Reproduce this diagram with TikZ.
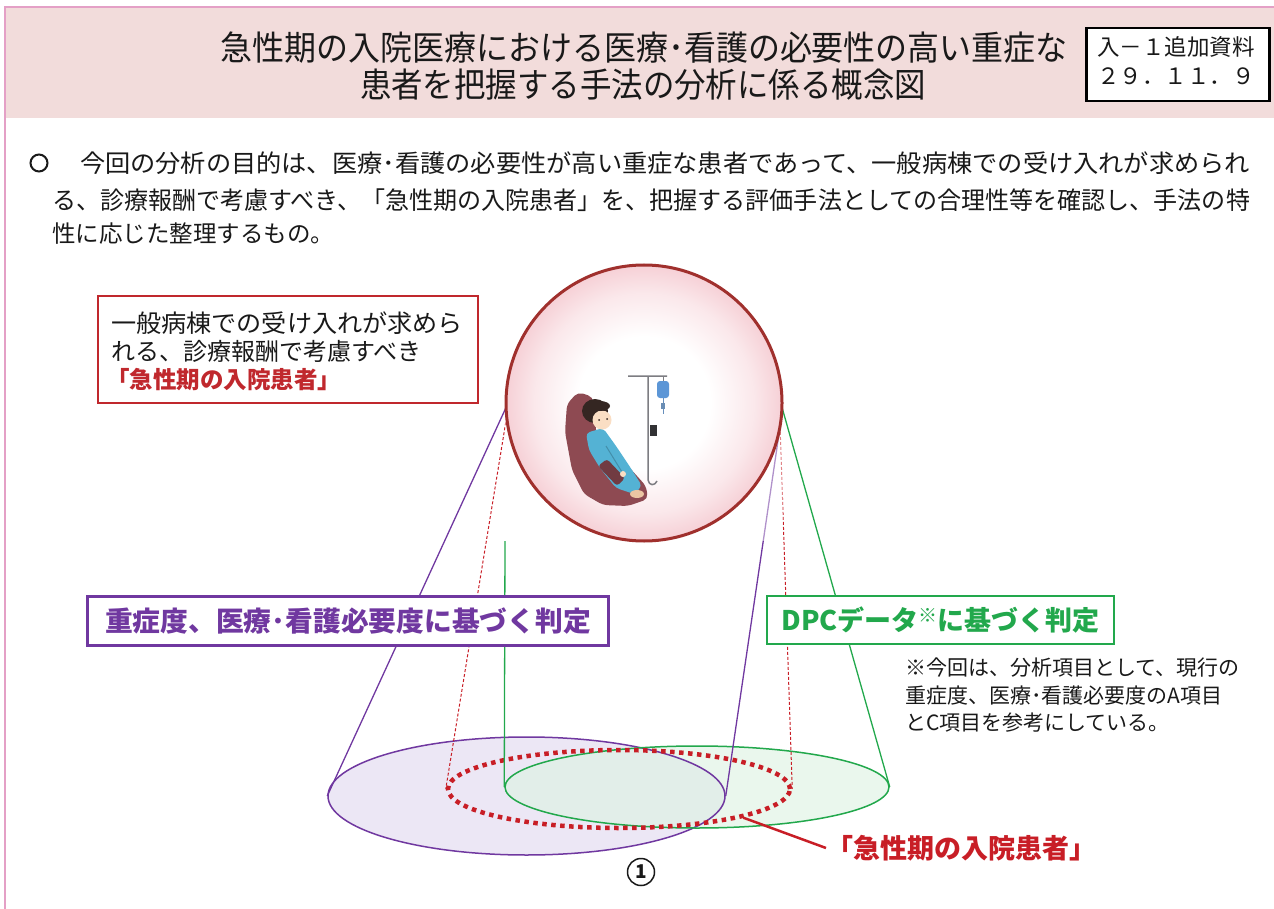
\documentclass[tikz,border=0pt]{standalone}
\usepackage{fontspec}
\setmainfont{Noto Sans CJK JP}
\usepackage{graphicx}
\usetikzlibrary{shapes.geometric}

\definecolor{hdrpink}{RGB}{242,220,219}
\definecolor{edgepink}{RGB}{228,160,198}
\definecolor{redbox}{RGB}{192,40,45}
\definecolor{acute}{RGB}{200,30,38}
\definecolor{ringred}{RGB}{160,48,45}
\definecolor{rimpink}{RGB}{246,208,214}
\definecolor{judgepurple}{RGB}{112,56,160}
\definecolor{dpcgreen}{RGB}{34,168,76}
\definecolor{purplefill}{RGB}{236,231,245}
\definecolor{greenfill}{RGB}{222,242,227}
\definecolor{chair}{RGB}{142,74,82}
\definecolor{gown}{RGB}{84,178,212}
\definecolor{skin}{RGB}{250,222,196}
\definecolor{hair}{RGB}{52,38,34}
\definecolor{ivbag}{RGB}{92,150,214}
\definecolor{pole}{RGB}{125,125,130}
\definecolor{ink}{RGB}{25,25,25}

\pgfdeclareradialshading{bubble}{\pgfpoint{0bp}{0bp}}{%
  color(0bp)=(white); color(12bp)=(white); color(20bp)=(rimpink!50!white);
  color(25bp)=(rimpink); color(50bp)=(rimpink)}

% stretch a line of text to a given width, keeping its height
\newcommand{\fitw}[2]{\resizebox{#1}{\height}{#2}}

\tikzset{
  txt/.style={inner sep=0pt, outer sep=0pt, text=ink},
  judgebox/.style={draw, line width=2.5pt, fill=white, inner sep=0pt},
  setoutline/.style={ellipse, inner sep=0pt, line width=1.5pt},
  cone/.style={line width=1.3pt},
  coneguide/.style={line width=1pt, acute, dash pattern=on 3pt off 2pt},
}

\begin{document}
\begin{tikzpicture}[x=1pt,y=-1pt]
\useasboundingbox (0,0) rectangle (1274,909);

% header band and page edge
\fill[hdrpink] (5,7) rectangle (1274,118);
\draw[edgepink, line width=1.5pt] (1274,7) -- (5,7) -- (5,909);

\node[txt] (title1) at (644,48)
  {\fitw{848pt}{\fontsize{34}{40}\selectfont 急性期の入院医療における医療･看護の必要性の高い重症な}};
\node[txt] (title2) at (643,85)
  {\fitw{566pt}{\fontsize{34}{40}\selectfont 患者を把握する手法の分析に係る概念図}};

\node[draw=black, line width=2.5pt, fill=white, minimum width=183pt, minimum height=73pt,
      anchor=north west, inner sep=0pt] (badge) at (1085,27) {};
\node[txt, font=\fontsize{22.5}{26}\selectfont] (badge1) at (1176,47) {入－１追加資料};
\node[txt, font=\fontsize{22.5}{26}\selectfont] (badge2) at (1176,76) {２９．１１．９};

% purpose statement
\node[circle, draw=ink, line width=2pt, minimum size=17pt, inner sep=0pt] (bullet) at (39,163) {};
\node[txt, anchor=west] (para1) at (80,163)
  {\fitw{1170pt}{\fontsize{24.5}{28}\selectfont 今回の分析の目的は、医療･看護の必要性が高い重症な患者であって、一般病棟での受け入れが求められ}};
\node[txt, anchor=west] (para2) at (52,200)
  {\fitw{1198pt}{\fontsize{24.5}{28}\selectfont る、診療報酬で考慮すべき、「急性期の入院患者」を、把握する評価手法としての合理性等を確認し、手法の特}};
\node[txt, anchor=west, font=\fontsize{23.5}{28}\selectfont] (para3) at (52,234) {性に応じた整理するもの。};

% three populations at the bottom
\path[fill=purplefill] (526.5,796) ellipse [x radius=198.5pt, y radius=59pt];
\path[fill=greenfill, fill opacity=0.65] (697,787) ellipse [x radius=192pt, y radius=41pt];
\node[setoutline, draw=judgepurple, minimum width=397pt, minimum height=118pt] (pset) at (526.5,796) {};
\node[setoutline, draw=dpcgreen, minimum width=384pt, minimum height=82pt] (gset) at (697,787) {};
\node[ellipse, inner sep=0pt, draw=acute, line width=4.5pt, dash pattern=on 4.5pt off 4.5pt,
      minimum width=342pt, minimum height=78pt] (aset) at (619,789) {};

% the patient bubble (placed first so the cone lines can start on it)
\node[circle, inner sep=0pt, minimum size=276pt] (bubble) at (644,403) {};
\coordinate (gtop) at (505,541);

% cone lines from the bubble down to each set
\draw[cone, judgepurple] (bubble.182) -- (pset.west);
\draw[cone, judgepurple] (bubble.349) -- (pset.east);
\draw[cone, dpcgreen] (gtop) -- (gset.west);
\draw[cone, dpcgreen] (bubble.358) -- (gset.east);
\draw[coneguide] (bubble.186) -- (aset.west);
\draw[coneguide] (bubble.350) -- (aset.east);

% picture backdrop softens the lines behind it
\fill[white, opacity=0.45] (505,265) rectangle (783,541);

\path[shading=bubble] (bubble.center) circle [radius=138pt];
\draw[ringred, line width=3pt] (bubble.center) circle [radius=138pt];

% patient resting in a reclining chair
\fill[chair, rounded corners=5pt] (567,404) -- (578,392) -- (593,397) -- (597,440) -- (628,466)
  -- (646,486) -- (648,499) -- (628,506) -- (603,505) -- (584,494) -- (572,470) -- (565,432) -- cycle;
\fill[gown, rounded corners=4pt] (586,433) -- (603,428) -- (616,446) -- (632,470) -- (642,486)
  -- (634,494) -- (616,488) -- (600,468) -- (589,450) -- cycle;
\fill[chair!80!black, rounded corners=3pt] (598,466) -- (607,459) -- (625,478) -- (617,486) -- cycle;
\draw[gown!80!black, line width=1pt] (606,446) -- (622,472);
\fill[skin] (623,474) circle [radius=3pt];
\fill[skin!75!brown] (637,494) ellipse [x radius=7pt, y radius=4pt];
\fill[hair] (595,411) ellipse [x radius=13pt, y radius=12pt];
\fill[skin] (602,420) ellipse [x radius=9.5pt, y radius=9.5pt];
\fill[hair] (600,406) ellipse [x radius=10pt, y radius=5pt];
\fill[hair] (599,420) circle [radius=1pt] (607,419) circle [radius=1pt];

% drip stand
\draw[pole, line width=1.5pt] (628,376) -- (667,376) (648,376) -- (648,480)
  .. controls (649,486) and (655,486) .. (657,481);
\draw[pole, line width=1pt] (663,376) -- (663,381);
\fill[ivbag, rounded corners=3pt] (657,381) rectangle (669,398);
\draw[ivbag!70!gray, line width=1pt] (663,398) -- (663,414);
\fill[ivbag!60!gray] (661,403) rectangle (665,409);
\fill[pole!40!black] (650,425) rectangle (657,436);

% description of the target patients
\node[draw=redbox, line width=2pt, minimum width=380pt, minimum height=107pt, anchor=north west,
      inner sep=0pt] (acutebox) at (97,295) {};
\node[txt, anchor=west] (acute1) at (111,323)
  {\fitw{352pt}{\fontsize{24.5}{28}\selectfont 一般病棟での受け入れが求めら}};
\node[txt, anchor=west, font=\fontsize{24}{28}\selectfont] (acute2) at (111,351) {れる、診療報酬で考慮すべき};
\node[txt, anchor=west, text=redbox, font=\fontsize{23.5}{28}\selectfont\bfseries] (acute3) at (106,380) {「急性期の入院患者」};

% judgement labels
\node[judgebox, draw=judgepurple, text=judgepurple, minimum width=521pt, minimum height=49pt]
  (pjudge) at (348,621)
  {\fitw{486pt}{\fontsize{27.5}{32}\selectfont\bfseries 重症度、医療･看護必要度に基づく判定}};
\node[judgebox, draw=dpcgreen, text=dpcgreen, minimum width=347pt, minimum height=48pt]
  (gjudge) at (940.5,620)
  {\fontsize{27}{32}\selectfont\bfseries DPCデータ\raisebox{8pt}{\fontsize{19}{20}\selectfont ※}に基づく判定};

\node[txt, anchor=west, font=\fontsize{21}{24}\selectfont] (note1) at (905,668) {※今回は、分析項目として、現行の};
\node[txt, anchor=west, font=\fontsize{21}{24}\selectfont] (note2) at (905,696) {重症度、医療･看護必要度のA項目};
\node[txt, anchor=west, font=\fontsize{21}{24}\selectfont] (note3) at (905,723) {とC項目を参考にしている。};

% label for the acute-care set
\node[txt, anchor=west, text=acute, font=\fontsize{27}{32}\selectfont\bfseries] (alabel) at (826,848) {「急性期の入院患者」};
\draw[acute, line width=2.5pt] (aset.347) -- (alabel.west);

\node[circle, draw=ink, line width=1.5pt, minimum size=27pt, inner sep=0pt, text=ink,
      font=\fontsize{19}{20}\selectfont\bfseries] (num) at (641,872) {1};
\end{tikzpicture}
\end{document}
